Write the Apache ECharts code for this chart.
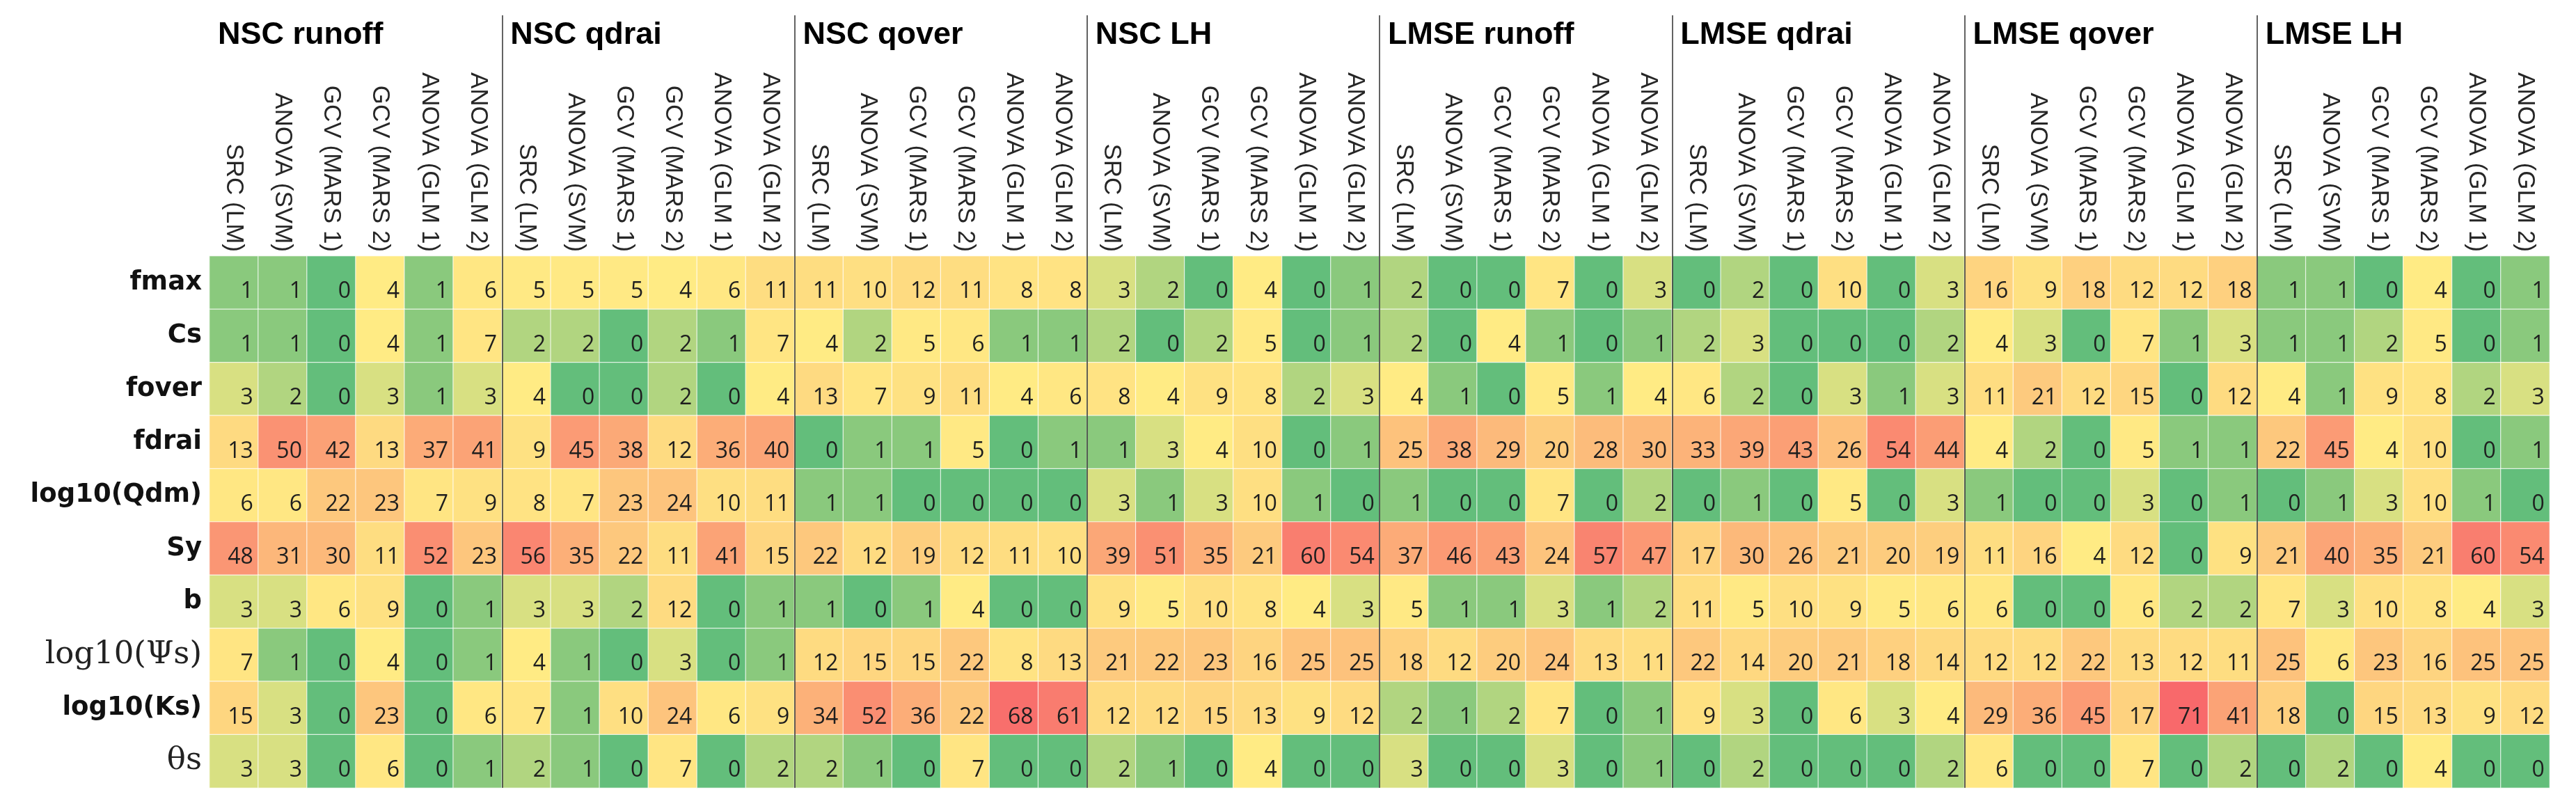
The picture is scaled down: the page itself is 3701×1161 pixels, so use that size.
<!DOCTYPE html>
<html>
<head>
<meta charset="utf-8">
<script src="https://cdn.jsdelivr.net/npm/echarts@6/dist/echarts.min.js"></script>
<style>
  html, body { margin: 0; padding: 0; background: #ffffff; }
  #chart { width: 3701px; height: 1161px; }
</style>
</head>
<body>
<div id="chart"></div>
<script>
// ---- Data ----
const groups = ['NSC runoff', 'NSC qdrai', 'NSC qover', 'NSC LH', 'LMSE runoff', 'LMSE qdrai', 'LMSE qover', 'LMSE LH'];
const methods = ['SRC (LM)', 'ANOVA (SVM)', 'GCV (MARS 1)', 'GCV (MARS 2)', 'ANOVA (GLM 1)', 'ANOVA (GLM 2)'];
const params = ['fmax', 'Cs', 'fover', 'fdrai', 'log10(Qdm)', 'Sy', 'b', 'log10(Ψs)', 'log10(Ks)', 'θs'];
const serifParams = ['log10(Ψs)', 'θs'];

// rows = params, columns = methods
const nscRunoff = [
  [1, 1, 0, 4, 1, 6], [1, 1, 0, 4, 1, 7], [3, 2, 0, 3, 1, 3], [13, 50, 42, 13, 37, 41], [6, 6, 22, 23, 7, 9],
  [48, 31, 30, 11, 52, 23], [3, 3, 6, 9, 0, 1], [7, 1, 0, 4, 0, 1], [15, 3, 0, 23, 0, 6], [3, 3, 0, 6, 0, 1]
];
const nscQdrai = [
  [5, 5, 5, 4, 6, 11], [2, 2, 0, 2, 1, 7], [4, 0, 0, 2, 0, 4], [9, 45, 38, 12, 36, 40], [8, 7, 23, 24, 10, 11],
  [56, 35, 22, 11, 41, 15], [3, 3, 2, 12, 0, 1], [4, 1, 0, 3, 0, 1], [7, 1, 10, 24, 6, 9], [2, 1, 0, 7, 0, 2]
];
const nscQover = [
  [11, 10, 12, 11, 8, 8], [4, 2, 5, 6, 1, 1], [13, 7, 9, 11, 4, 6], [0, 1, 1, 5, 0, 1], [1, 1, 0, 0, 0, 0],
  [22, 12, 19, 12, 11, 10], [1, 0, 1, 4, 0, 0], [12, 15, 15, 22, 8, 13], [34, 52, 36, 22, 68, 61], [2, 1, 0, 7, 0, 0]
];
const nscLH = [
  [3, 2, 0, 4, 0, 1], [2, 0, 2, 5, 0, 1], [8, 4, 9, 8, 2, 3], [1, 3, 4, 10, 0, 1], [3, 1, 3, 10, 1, 0],
  [39, 51, 35, 21, 60, 54], [9, 5, 10, 8, 4, 3], [21, 22, 23, 16, 25, 25], [12, 12, 15, 13, 9, 12], [2, 1, 0, 4, 0, 0]
];
const lmseRunoff = [
  [2, 0, 0, 7, 0, 3], [2, 0, 4, 1, 0, 1], [4, 1, 0, 5, 1, 4], [25, 38, 29, 20, 28, 30], [1, 0, 0, 7, 0, 2],
  [37, 46, 43, 24, 57, 47], [5, 1, 1, 3, 1, 2], [18, 12, 20, 24, 13, 11], [2, 1, 2, 7, 0, 1], [3, 0, 0, 3, 0, 1]
];
const lmseQdrai = [
  [0, 2, 0, 10, 0, 3], [2, 3, 0, 0, 0, 2], [6, 2, 0, 3, 1, 3], [33, 39, 43, 26, 54, 44], [0, 1, 0, 5, 0, 3],
  [17, 30, 26, 21, 20, 19], [11, 5, 10, 9, 5, 6], [22, 14, 20, 21, 18, 14], [9, 3, 0, 6, 3, 4], [0, 2, 0, 0, 0, 2]
];
const lmseQover = [
  [16, 9, 18, 12, 12, 18], [4, 3, 0, 7, 1, 3], [11, 21, 12, 15, 0, 12], [4, 2, 0, 5, 1, 1], [1, 0, 0, 3, 0, 1],
  [11, 16, 4, 12, 0, 9], [6, 0, 0, 6, 2, 2], [12, 12, 22, 13, 12, 11], [29, 36, 45, 17, 71, 41], [6, 0, 0, 7, 0, 2]
];
const lmseLH = [
  [1, 1, 0, 4, 0, 1], [1, 1, 2, 5, 0, 1], [4, 1, 9, 8, 2, 3], [22, 45, 4, 10, 0, 1], [0, 1, 3, 10, 1, 0],
  [21, 40, 35, 21, 60, 54], [7, 3, 10, 8, 4, 3], [25, 6, 23, 16, 25, 25], [18, 0, 15, 13, 9, 12], [0, 2, 0, 4, 0, 0]
];
const groupData = [nscRunoff, nscQdrai, nscQover, nscLH, lmseRunoff, lmseQdrai, lmseQover, lmseLH];

// ---- Build heatmap data ----
const cells = [];
const allVals = [];
groupData.forEach((g, gi) => {
  g.forEach((row, ri) => {
    row.forEach((v, ci) => {
      cells.push([gi * methods.length + ci, ri, v]);
      allVals.push(v);
    });
  });
});
const xCats = [];
for (let i = 0; i < groups.length * methods.length; i++) xCats.push(String(i));

// Excel-like 3 colour scale: min green, 50th percentile yellow, max red
const sorted = allVals.slice().sort((a, b) => a - b);
const n = sorted.length;
const median = n % 2 ? sorted[(n - 1) / 2] : (sorted[n / 2 - 1] + sorted[n / 2]) / 2;
const vMin = sorted[0], vMax = sorted[n - 1];
const cLow = [99, 190, 123], cMid = [255, 235, 132], cHigh = [248, 105, 107];
function lerp(a, b, t) { return a.map((x, i) => Math.round(x + (b[i] - x) * t)); }
const stops = [];
for (let v = vMin; v <= vMax; v++) {
  const c = v <= median ? lerp(cLow, cMid, (v - vMin) / (median - vMin)) : lerp(cMid, cHigh, (v - median) / (vMax - median));
  stops.push('rgb(' + c.join(',') + ')');
}

const chart = echarts.init(document.getElementById('chart'), null, { renderer: 'canvas' });
const option = {
  backgroundColor: '#ffffff',
  animation: false,
  grid: [
    { left: 301, right: 38, top: 368, bottom: 29 },
    { left: 301, right: 38, top: 22, bottom: 29 }
  ],
  xAxis: [
    {
      type: 'category', gridIndex: 0, position: 'top', data: xCats,
      axisLine: { show: false }, axisTick: { show: false }, splitLine: { show: false },
      axisLabel: {
        interval: 0, rotate: 90, margin: 6, fontSize: 35, color: '#262626',
        fontFamily: 'Liberation Sans, Arial, sans-serif',
        formatter: (v, i) => methods[Number(v) % methods.length]
      }
    },
    {
      type: 'value', gridIndex: 1, position: 'top', min: 0, max: groups.length * methods.length,
      interval: methods.length, z: 5,
      axisLine: { show: false }, axisTick: { show: false },
      splitLine: { show: true, showMinLine: false, showMaxLine: false, lineStyle: { color: '#3c3c3c', width: 1.6 } },
      axisLabel: {
        inside: true, margin: 6, align: 'left', verticalAlign: 'top', padding: [0, 0, 0, 12],
        fontSize: 45, fontWeight: 'bold', color: '#000', fontFamily: 'Liberation Sans, Arial, sans-serif',
        showMinLabel: true, showMaxLabel: false, hideOverlap: false,
        formatter: (v) => groups[Math.round(v / methods.length)] || ''
      }
    }
  ],
  yAxis: [
    {
      type: 'category', gridIndex: 0, data: params, inverse: true,
      axisLine: { show: false }, axisTick: { show: false }, splitLine: { show: false },
      axisLabel: {
        interval: 0, margin: 11,
        formatter: (v) => serifParams.indexOf(v) >= 0 ? '{s|' + v + '}' : '{b|' + v + '}',
        rich: {
          b: { fontFamily: 'DejaVu Sans, sans-serif', fontWeight: 'bold', fontSize: 37, color: '#111' },
          s: { fontFamily: 'DejaVu Serif, serif', fontSize: 45, color: '#222' }
        }
      }
    },
    { type: 'value', gridIndex: 1, min: 0, max: 1, show: false }
  ],
  visualMap: {
    show: false, type: 'continuous', min: vMin, max: vMax, dimension: 2, seriesIndex: 0,
    inRange: { color: stops }
  },
  series: [{
    type: 'heatmap', xAxisIndex: 0, yAxisIndex: 0, data: cells,
    itemStyle: { borderColor: 'rgba(255,255,255,0.75)', borderWidth: 1.2 },
    label: {
      show: true, position: 'insideRight', distance: 8, offset: [0, 13],
      fontSize: 32, color: '#1e1e1e', fontFamily: 'Open Sans, Liberation Sans, sans-serif',
      formatter: (p) => String(p.value[2])
    },
    emphasis: { disabled: true }
  }]
};
chart.setOption(option);
</script>
</body>
</html>
